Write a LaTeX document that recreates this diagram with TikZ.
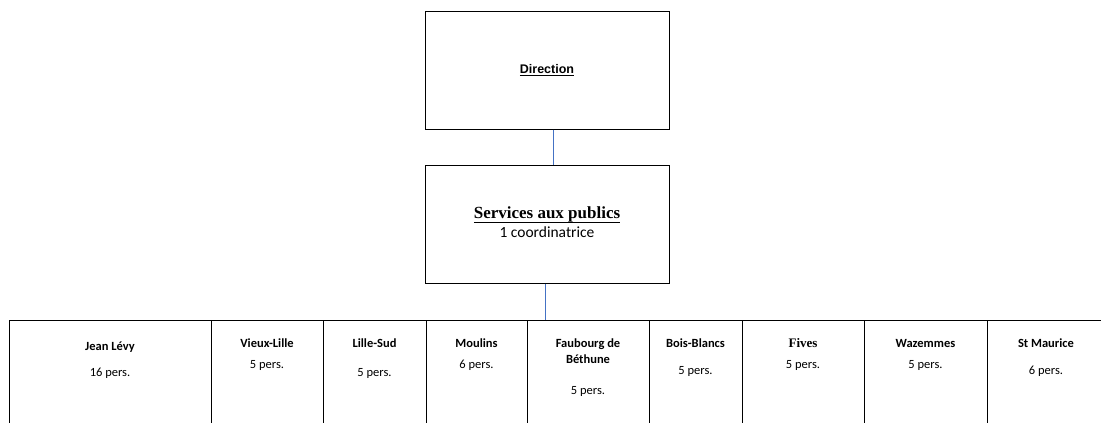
\documentclass[tikz,border=0pt]{standalone}
\usepackage{fontspec}
\setmainfont{Carlito}
\newfontfamily\arialf{Liberation Sans}
\newfontfamily\serff{Liberation Serif}
\definecolor{connc}{RGB}{68,114,196}
\newcommand\myul[2]{\leavevmode\vtop{\hbox{#2}\kern#1\hrule height 1.1pt}}
\begin{document}
\begin{tikzpicture}[x=1pt,y=-1pt,
  box/.style={draw,line width=1pt,inner sep=0pt},
  cell/.style={draw,line width=1pt,inner sep=0pt,minimum height=140pt},
  conn/.style={draw=connc,line width=0.8pt},
  nm/.style={anchor=base,inner sep=0pt,font=\fontsize{12.5}{14}\selectfont\bfseries},
  ps/.style={anchor=base,inner sep=0pt,font=\fontsize{12.5}{14}\selectfont}]
\useasboundingbox (0,0) rectangle (1101,423);
% boxes
\node[box,minimum width=244pt,minimum height=118pt] (dir) at (547,70) {};
\node[box,minimum width=244pt,minimum height=118pt] (svc) at (547,224) {};
\node[anchor=base,inner sep=0pt] (dirt) at (547,73) {\arialf\bfseries\fontsize{12.5}{15}\selectfont\myul{2pt}{Direction}};
\node[anchor=base,inner sep=0pt] (svct) at (547,218) {\serff\bfseries\fontsize{17}{20}\selectfont\myul{0.3pt}{Services aux publics}};
\node[anchor=base,inner sep=0pt] (svcc) at (547,237) {\fontsize{15.5}{18}\selectfont 1 coordinatrice};
% cells (top at 320)
\node[cell,minimum width=202pt] (c1) at (110,390) {};
\node[cell,minimum width=112pt] (c2) at (267,390) {};
\node[cell,minimum width=103pt] (c3) at (374.5,390) {};
\node[cell,minimum width=101pt] (c4) at (476.5,390) {};
\node[cell,minimum width=122pt] (c5) at (588,390) {};
\node[cell,minimum width=93pt] (c6) at (695.5,390) {};
\node[cell,minimum width=122pt] (c7) at (803,390) {};
\node[cell,minimum width=123pt] (c8) at (925.5,390) {};
\node[cell,minimum width=118pt] (c9) at (1046,390) {};
% connectors
\coordinate (a1) at ([xshift=6pt]dir.south);
\coordinate (a2) at ([xshift=6pt]svc.north);
\draw[conn] (a1) -- (a2);
\coordinate (b1) at ([xshift=-2pt]svc.south);
\draw[conn] (b1) -- (b1 |- c5.north);
% cell texts
\node[nm] (n1) at (110,350) {Jean Lévy};
\node[ps] (p1) at (110,376) {16 pers.};
\node[nm] (n2) at (267,347) {Vieux-Lille};
\node[ps] (p2) at (267,368) {5 pers.};
\node[nm] (n3) at (374.5,347) {Lille-Sud};
\node[ps] (p3) at (374.5,376) {5 pers.};
\node[nm] (n4) at (476.5,347) {Moulins};
\node[ps] (p4) at (476.5,368) {6 pers.};
\node[nm] (n5) at (588,347) {Faubourg de};
\node[nm] (n5b) at (588,363) {Béthune};
\node[ps] (p5) at (588,394) {5 pers.};
\node[nm] (n6) at (695.5,347) {Bois-Blancs};
\node[ps] (p6) at (695.5,374) {5 pers.};
\node[nm,font=\serff\bfseries\fontsize{13}{14}\selectfont] (n7) at (803,347) {Fives};
\node[ps] (p7) at (803,368) {5 pers.};
\node[nm] (n8) at (925.5,347) {Wazemmes};
\node[ps] (p8) at (925.5,368) {5 pers.};
\node[nm] (n9) at (1046,347) {St Maurice};
\node[ps] (p9) at (1046,374) {6 pers.};
\end{tikzpicture}
\end{document}
